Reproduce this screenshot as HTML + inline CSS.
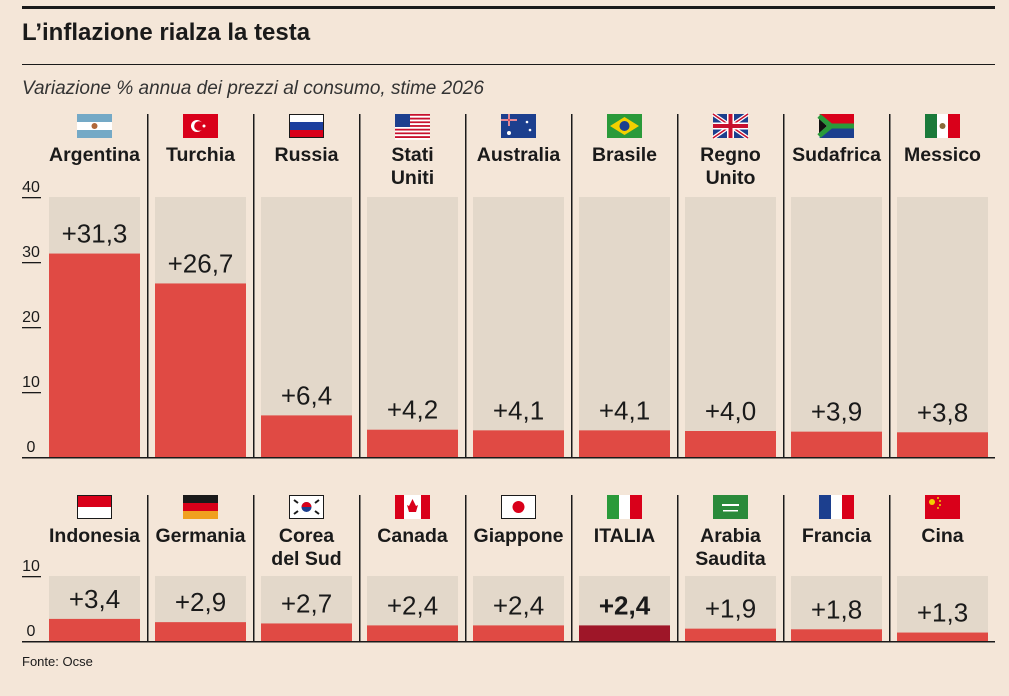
<!DOCTYPE html>
<html><head><meta charset="utf-8"><style>
body{margin:0;background:#f4e6d8;font-family:"Liberation Sans",sans-serif;color:#1a1a1a}
#wrap{position:relative;width:1009px;height:696px;overflow:hidden}
</style></head><body><div id="wrap">
<svg id="svg" width="1009" height="696" xmlns="http://www.w3.org/2000/svg">
<rect x="22" y="6" width="973" height="3" fill="#1a1a1a"/>
<text x="22" y="40" font-size="24" font-weight="bold" fill="#1a1a1a">L’inflazione rialza la testa</text>
<rect x="22" y="64" width="973" height="1" fill="#1a1a1a"/>
<text x="22" y="94" font-size="19" font-style="italic" fill="#333">Variazione % annua dei prezzi al consumo, stime 2026</text>
<text x="22" y="666" font-size="13" fill="#1a1a1a">Fonte: Ocse</text>
<g id="g"></g>
</svg></div>
<script>
const topCountries=["Argentina","Turchia","Russia","Stati|Uniti","Australia","Brasile","Regno|Unito","Sudafrica","Messico"];
const topValues=[31.3,26.7,6.4,4.2,4.1,4.1,4.0,3.9,3.8];
const botCountries=["Indonesia","Germania","Corea|del Sud","Canada","Giappone","ITALIA","Arabia|Saudita","Francia","Cina"];
const botValues=[3.4,2.9,2.7,2.4,2.4,2.4,1.9,1.8,1.3];
const topTicks=[0,10,20,30,40];
const botTicks=[0,10];
const topFlags=["ar","tr","ru","us","au","br","gb","za","mx"];
const botFlags=["id","de","kr","ca","jp","it","sa","fr","cn"];
const NS="http://www.w3.org/2000/svg";
const g=document.getElementById('g');
function el(t,a,p){const e=document.createElementNS(NS,t);for(const k in a)e.setAttribute(k,a[k]);(p||g).appendChild(e);return e;}
const PX=6.5;
function flag(code,x,y,p){
 const w=35,h=24;
 const r=(xx,yy,ww,hh,f)=>el('rect',{x:x+xx,y:y+yy,width:ww,height:hh,fill:f},p);
 switch(code){
 case"ar":r(0,0,w,h,"#fff");r(0,0,w,8,"#74a9c6");r(0,16,w,8,"#74a9c6");el('circle',{cx:x+17.5,cy:y+12,r:3,fill:"#b0683a"},p);break;
 case"tr":r(0,0,w,h,"#d9001a");el('circle',{cx:x+14,cy:y+12,r:6,fill:"#fff"},p);el('circle',{cx:x+16,cy:y+12,r:4.8,fill:"#d9001a"},p);el('circle',{cx:x+21,cy:y+12,r:1.5,fill:"#fff"},p);break;
 case"ru":r(0,0,w,8,"#fff");r(0,8,w,8,"#1c3f9e");r(0,16,w,8,"#d9001a");el('rect',{x:x+.5,y:y+.5,width:w-1,height:h-1,fill:"none",stroke:"#1a1a1a"},p);break;
 case"us":for(let i=0;i<7;i++){r(0,i*24/6.5,w,24/13,"#c8102e");r(0,i*24/6.5+24/13,w,24/13,"#fff");}r(0,0,15,13,"#1c3f8e");break;
 case"au":r(0,0,w,h,"#1c3f8e");r(0,5,16,2,"#fff");r(7,0,2,12,"#fff");r(0,5.5,16,1,"#c8102e");r(7.5,0,1,12,"#c8102e");el('circle',{cx:x+8,cy:y+19,r:2,fill:"#fff"},p);el('circle',{cx:x+26,cy:y+8,r:1.3,fill:"#fff"},p);el('circle',{cx:x+29,cy:y+16,r:1.3,fill:"#fff"},p);break;
 case"br":r(0,0,w,h,"#2a9a3a");el('polygon',{points:`${x+17.5},${y+3} ${x+32},${y+12} ${x+17.5},${y+21} ${x+3},${y+12}`,fill:"#f3d000"},p);el('circle',{cx:x+17.5,cy:y+12,r:5,fill:"#1c3f8e"},p);break;
 case"gb":r(0,0,w,h,"#1c3f8e");el('path',{d:`M${x},${y}L${x+w},${y+h}M${x+w},${y}L${x},${y+h}`,stroke:"#fff","stroke-width":4},p);el('path',{d:`M${x},${y}L${x+w},${y+h}M${x+w},${y}L${x},${y+h}`,stroke:"#c8102e","stroke-width":1.5},p);r(14,0,7,h,"#fff");r(0,8.5,w,7,"#fff");r(15.5,0,4,h,"#c8102e");r(0,10,w,4,"#c8102e");break;
 case"za":r(0,0,w,12,"#d9001a");r(0,12,w,12,"#1c3f8e");el('polygon',{points:`${x},${y} ${x+14},${y+12} ${x},${y+24}`,fill:"#fff"},p);el('path',{d:`M${x},${y+2}L${x+12},${y+12}L${x},${y+22}M${x+12},${y+12}H${x+w}`,stroke:"#2a9a3a","stroke-width":5,fill:"none"},p);el('polygon',{points:`${x},${y+5} ${x+8},${y+12} ${x},${y+19}`,fill:"#111"},p);break;
 case"mx":r(0,0,12,h,"#1a7a3a");r(12,0,11,h,"#fff");r(23,0,12,h,"#d9001a");el('circle',{cx:x+17.5,cy:y+12,r:3,fill:"#8a6a3a"},p);break;
 case"id":r(0,0,w,12,"#d9001a");r(0,12,w,12,"#fff");el('rect',{x:x+.5,y:y+.5,width:w-1,height:h-1,fill:"none",stroke:"#1a1a1a"},p);break;
 case"de":r(0,0,w,8,"#1a1a1a");r(0,8,w,8,"#d9001a");r(0,16,w,8,"#f0a020");break;
 case"kr":r(0,0,w,h,"#fff");el('rect',{x:x+.5,y:y+.5,width:w-1,height:h-1,fill:"none",stroke:"#1a1a1a"},p);el('circle',{cx:x+17.5,cy:y+12,r:5,fill:"#1c3f8e"},p);el('path',{d:`M${x+12.5},${y+12}a5,5 0 0 1 10,0z`,fill:"#d9001a"},p);el('path',{d:`M${x+5},${y+5}l4,3M${x+26},${y+16}l4,3M${x+26},${y+8}l4,-3M${x+5},${y+19}l4,-3`,stroke:"#1a1a1a","stroke-width":2},p);break;
 case"ca":r(0,0,w,h,"#fff");r(0,0,9,h,"#d9001a");r(26,0,9,h,"#d9001a");el('polygon',{points:`${x+17.5},${y+4} ${x+21},${y+11} ${x+23},${y+10} ${x+21},${y+17} ${x+14},${y+17} ${x+12},${y+10} ${x+14},${y+11}`,fill:"#d9001a"},p);break;
 case"jp":r(0,0,w,h,"#fff");el('rect',{x:x+.5,y:y+.5,width:w-1,height:h-1,fill:"none",stroke:"#1a1a1a"},p);el('circle',{cx:x+17.5,cy:y+12,r:6,fill:"#d9001a"},p);break;
 case"it":r(0,0,12,h,"#2a9a3a");r(12,0,11,h,"#fff");r(23,0,12,h,"#d9001a");break;
 case"sa":r(0,0,w,h,"#2a8a3a");r(9,9,17,2,"#fff");r(10,15,15,1.5,"#fff");break;
 case"fr":r(0,0,12,h,"#1c3f8e");r(12,0,11,h,"#fff");r(23,0,12,h,"#d9001a");break;
 case"cn":r(0,0,w,h,"#d9001a");el('circle',{cx:x+7,cy:y+7,r:3,fill:"#f3d000"},p);[[13,3],[15,6],[15,10],[13,13]].forEach(([a,b])=>el('circle',{cx:x+a,cy:y+b,r:1,fill:"#f3d000"},p));break;
 }
}
function panel(countries,values,flags,ticks,base,max,sepTop,flagY,nameY,prefix){
 const yS=v=>base-v*PX;
 ticks.forEach(t=>{
  const tl=el('text',{x:31,y:yS(t)-5,'font-size':16,'text-anchor':'middle',fill:'#1a1a1a'});
  
  
  tl.textContent=t;
  if(t>0){const ln=el('rect',{x:22,y:yS(t),width:19,height:1.3,fill:'#1a1a1a'});
  
  }
 });
 countries.forEach((c,i)=>{
  const x0=49+i*106,cx=x0+45.5;
  if(i>0){const s=el('rect',{x:x0-8,y:sepTop,width:1.5,height:base-sepTop,fill:'#1a1a1a'});
   
   }
  const fg=el('g',{});
  
  
  flag(flags[i],cx-17.5,flagY,fg);
  c.split('|').forEach((ln,j)=>{
   const t=el('text',{x:cx,y:nameY+j*23,'font-size':19.5,'font-weight':'bold','text-anchor':'middle',fill:'#1a1a1a'});
   
   
   t.textContent=ln;
  });
  const bg=el('rect',{x:x0,y:yS(max),width:91,height:max*PX,fill:'#e3d8ca'});
  
  
  const isIt=c==='ITALIA';
  const b=el('rect',{x:x0,y:yS(values[i]),width:91,height:values[i]*PX,fill:isIt?'#9e1628':'#e04a44'});
  
  
  const v=el('text',{x:cx,y:yS(values[i])-11,'font-size':26,'font-weight':isIt?'bold':'normal','text-anchor':'middle',fill:'#1a1a1a'});
  
  
  v.textContent='+'+values[i].toFixed(1).replace('.',',');
 });
 const bl=el('rect',{x:22,y:base,width:973,height:1.5,fill:'#1a1a1a'});
 
 
}
panel(topCountries,topValues,topFlags,topTicks,457,40,114,114,161,'top');
panel(botCountries,botValues,botFlags,botTicks,641,10,495,495,542,'bottom');
</script></body></html>
